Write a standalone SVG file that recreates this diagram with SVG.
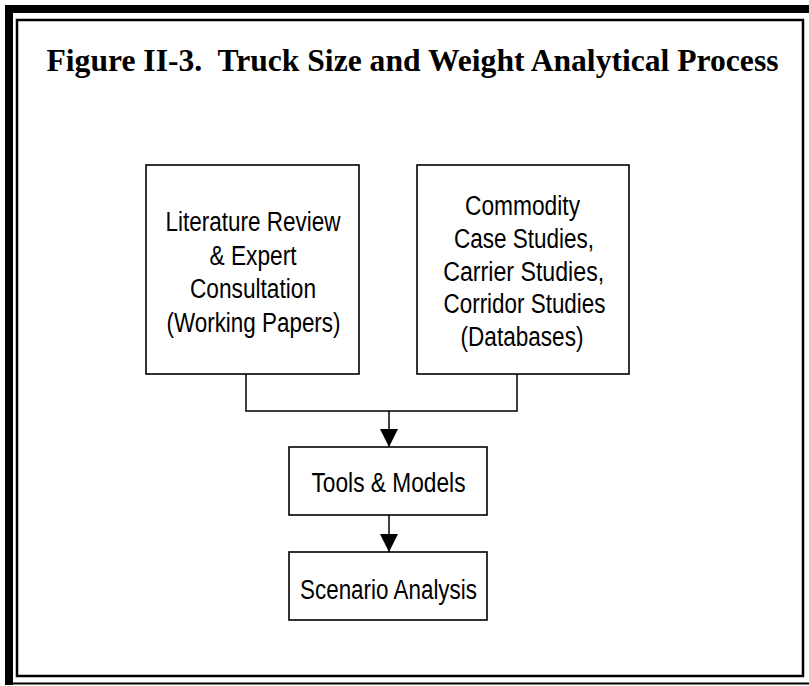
<svg xmlns="http://www.w3.org/2000/svg" width="809" height="686" viewBox="0 0 809 686">
<style>
.box{fill:#fff;stroke:#000;stroke-width:1.6}
.lbl{font-family:"Liberation Sans Narrow","Arial Narrow","Liberation Sans",sans-serif;font-size:27px;fill:#000;text-anchor:middle}
.conn{fill:none;stroke:#000;stroke-width:1.5}
</style>
<defs>
<marker id="arr" markerUnits="userSpaceOnUse" markerWidth="18" markerHeight="18" refX="18" refY="9" orient="auto">
<path d="M0,0 L18,9 L0,18 Z" fill="#000"/>
</marker>
</defs>
<rect width="809" height="686" fill="#fff"/>
<g id="frame">
<path d="M5,5 H809 V13 H13 V685 H5 Z" fill="#000"/>
<line x1="13" y1="683.5" x2="809" y2="683.5" stroke="#000" stroke-width="2"/>
<rect x="17" y="20" width="786" height="656" fill="none" stroke="#000" stroke-width="2.5"/>
</g>
<g id="title">
<text x="46.5" y="70.5" xml:space="preserve" font-family="'Liberation Serif','Times New Roman',serif" font-weight="bold" font-size="31.3" textLength="732" lengthAdjust="spacingAndGlyphs">Figure II-3.  Truck Size and Weight Analytical Process</text>
</g>
<g id="connectors">
<path class="conn" d="M246,374 V411 H517 V374"/>
<line class="conn" x1="389" y1="411" x2="389" y2="447" marker-end="url(#arr)"/>
<line class="conn" x1="389" y1="515" x2="389" y2="552" marker-end="url(#arr)"/>
</g>
<g id="literature">
<rect class="box" x="146" y="165" width="213" height="209"/>
<text class="lbl" x="253" y="231" textLength="175" lengthAdjust="spacingAndGlyphs">Literature Review</text>
<text class="lbl" x="253" y="264.5" textLength="87" lengthAdjust="spacingAndGlyphs">&amp; Expert</text>
<text class="lbl" x="253" y="298" textLength="126" lengthAdjust="spacingAndGlyphs">Consultation</text>
<text class="lbl" x="253.5" y="331.5" textLength="174" lengthAdjust="spacingAndGlyphs">(Working Papers)</text>
</g>
<g id="commodity">
<rect class="box" x="417" y="165" width="212" height="209"/>
<text class="lbl" x="522.5" y="215" textLength="115" lengthAdjust="spacingAndGlyphs">Commodity</text>
<text class="lbl" x="524" y="248" textLength="140" lengthAdjust="spacingAndGlyphs">Case Studies,</text>
<text class="lbl" x="523.7" y="280.5" textLength="161" lengthAdjust="spacingAndGlyphs">Carrier Studies,</text>
<text class="lbl" x="524.5" y="313" textLength="162" lengthAdjust="spacingAndGlyphs">Corridor Studies</text>
<text class="lbl" x="522" y="346" textLength="123" lengthAdjust="spacingAndGlyphs">(Databases)</text>
</g>
<g id="tools">
<rect class="box" x="289" y="447" width="198" height="68"/>
<text class="lbl" x="388.5" y="492" textLength="154" lengthAdjust="spacingAndGlyphs">Tools &amp; Models</text>
</g>
<g id="scenario">
<rect class="box" x="289" y="552" width="198" height="68"/>
<text class="lbl" x="388.5" y="599" textLength="177" lengthAdjust="spacingAndGlyphs">Scenario Analysis</text>
</g>
</svg>
